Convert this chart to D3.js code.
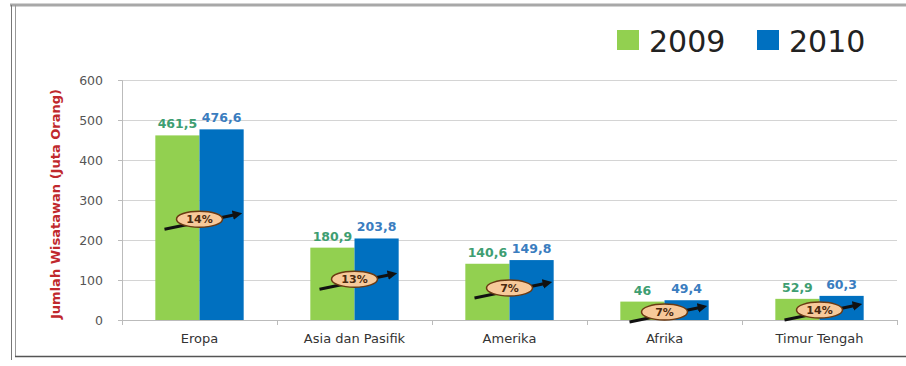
<!DOCTYPE html>
<html>
<head>
<meta charset="utf-8">
<script src="https://cdn.jsdelivr.net/npm/d3@7"></script>
<style>
  html, body { margin: 0; padding: 0; background: #fff; }
  svg { display: block; }
  text { font-family: "DejaVu Sans", sans-serif; }
</style>
</head>
<body>
<svg id="chart" width="906" height="366"></svg>
<script>
// Wisatawan internasional per kawasan (juta orang)
const categories = ["Eropa", "Asia dan Pasifik", "Amerika", "Afrika", "Timur Tengah"];
const years = ["2009", "2010"];
const values2009 = [461.5, 180.9, 140.6, 46, 52.9];
const values2010 = [476.6, 203.8, 149.8, 49.4, 60.3];
const labels2009 = ["461,5", "180,9", "140,6", "46", "52,9"];
const labels2010 = ["476,6", "203,8", "149,8", "49,4", "60,3"];
const growth = ["14%", "13%", "7%", "7%", "14%"];
const growthLevel = [252, 102, 80, 20, 25];   // height of the growth badge, in axis units
const yTicks = [0, 100, 200, 300, 400, 500, 600];

const colors = { "2009": "#92d050", "2010": "#0070c0" };
const labelColors = { "2009": "#3e9e72", "2010": "#3a7dbf" };
const FONT = "'DejaVu Sans', sans-serif";

const svg = d3.select("#chart");

// outer frame
svg.append("line").attr("x1", 10).attr("x2", 906).attr("y1", 5).attr("y2", 5)
  .attr("stroke", "#a8a8a8").attr("stroke-width", 3);
svg.append("line").attr("x1", 11.5).attr("x2", 11.5).attr("y1", 5).attr("y2", 360)
  .attr("stroke", "#777").attr("stroke-width", 1);
svg.append("line").attr("x1", 15.5).attr("x2", 15.5).attr("y1", 5).attr("y2", 356)
  .attr("stroke", "#999").attr("stroke-width", 1);
svg.append("line").attr("x1", 15).attr("x2", 906).attr("y1", 356.5).attr("y2", 356.5)
  .attr("stroke", "#555").attr("stroke-width", 1.5);

const plotLeft = 122, plotRight = 897, plotTop = 80, plotBottom = 320;

const x = d3.scaleBand().domain(categories).range([plotLeft, plotRight])
  .paddingInner(0.43).paddingOuter(0.215);
const xs = d3.scaleBand().domain(years).range([0, x.bandwidth()]);
const y = d3.scaleLinear().domain([0, 600]).range([plotBottom, plotTop]);

// gridlines
svg.append("g").selectAll("line").data(yTicks.filter(d => d > 0)).join("line")
  .attr("x1", plotLeft).attr("x2", plotRight)
  .attr("y1", d => y(d) + 0.5).attr("y2", d => y(d) + 0.5)
  .attr("stroke", "#d4d4d4").attr("stroke-width", 1.2);

// y axis
const yAxis = svg.append("g").attr("transform", `translate(${plotLeft},0)`)
  .call(d3.axisLeft(y).tickValues(yTicks).tickSize(4).tickPadding(15));
yAxis.select(".domain").attr("stroke", "#bbb");
yAxis.selectAll(".tick line").attr("stroke", "#bbb");
yAxis.selectAll("text").attr("fill", "#555").style("font-size", "12.5px")
  .style("font-family", FONT);

// y axis title
svg.append("text")
  .attr("transform", `translate(55,${(plotTop + plotBottom) / 2 + 4}) rotate(-90)`)
  .attr("text-anchor", "middle").attr("dy", "0.35em")
  .attr("textLength", 230).attr("lengthAdjust", "spacingAndGlyphs")
  .attr("fill", "#c0282d").style("font-size", "13px").style("font-weight", "bold")
  .text("Jumlah Wisatawan (Juta Orang)");

// bars
const rows = categories.map((c, i) => ({
  cat: c,
  bars: [
    { year: "2009", value: values2009[i], label: labels2009[i] },
    { year: "2010", value: values2010[i], label: labels2010[i] }
  ],
  growth: growth[i],
  level: growthLevel[i]
}));

const groups = svg.append("g").selectAll("g").data(rows).join("g")
  .attr("transform", d => `translate(${x(d.cat)},0)`);

groups.selectAll("rect").data(d => d.bars).join("rect")
  .attr("x", d => xs(d.year))
  .attr("width", xs.bandwidth())
  .attr("y", d => y(d.value))
  .attr("height", d => y(0) - y(d.value))
  .attr("fill", d => colors[d.year]);

groups.selectAll("text.val").data(d => d.bars).join("text")
  .attr("class", "val")
  .attr("x", d => xs(d.year) + xs.bandwidth() / 2)
  .attr("y", d => y(d.value) - 7)
  .attr("text-anchor", "middle")
  .attr("fill", d => labelColors[d.year])
  .style("font-size", "12.5px").style("font-weight", "bold")
  .text(d => d.label);

// x axis
const xAxis = svg.append("g").attr("transform", `translate(0,${plotBottom})`)
  .call(d3.axisBottom(x).tickSize(0).tickPadding(14));
xAxis.select(".domain").attr("stroke", "#bbb");
xAxis.selectAll("text").attr("fill", "#333").style("font-size", "13px")
  .style("font-family", FONT);
const bounds = d3.range(categories.length + 1).map(i => plotLeft + i * x.step());
svg.append("g").selectAll("line").data(bounds).join("line")
  .attr("x1", d => d + 0.5).attr("x2", d => d + 0.5)
  .attr("y1", plotBottom).attr("y2", plotBottom + 5)
  .attr("stroke", "#bbb");

// growth badges with arrows
const defs = svg.append("defs");
defs.append("marker").attr("id", "arrow")
  .attr("viewBox", "0 0 10 10").attr("refX", 5).attr("refY", 5)
  .attr("markerWidth", 3.2).attr("markerHeight", 3.2).attr("orient", "auto")
  .append("path").attr("d", "M0,0 L10,5 L0,10 Z").attr("fill", "#111");

const badges = svg.append("g").selectAll("g").data(rows).join("g")
  .attr("transform", d => `translate(${x(d.cat) + x.bandwidth() / 2},${y(d.level)})`);

badges.append("line")
  .attr("x1", -35).attr("y1", 10).attr("x2", 38).attr("y2", -5)
  .attr("stroke", "#111").attr("stroke-width", 3)
  .attr("marker-end", "url(#arrow)");

badges.append("ellipse")
  .attr("rx", 23).attr("ry", 8)
  .attr("fill", "#f7c99a").attr("stroke", "#6b3a12").attr("stroke-width", 1.5);

badges.append("text")
  .attr("text-anchor", "middle").attr("dy", "0.36em")
  .attr("fill", "#4a2a10").style("font-size", "11px").style("font-weight", "bold")
  .text(d => d.growth);

// legend
const legend = svg.append("g").attr("transform", "translate(617,0)");
const legendItems = legend.selectAll("g").data(years).join("g")
  .attr("transform", (d, i) => `translate(${i * 140},0)`);
legendItems.append("rect")
  .attr("x", 0).attr("y", 30).attr("width", 22).attr("height", 20)
  .attr("fill", d => colors[d]);
legendItems.append("text")
  .attr("x", 32).attr("y", 52)
  .attr("fill", "#222").style("font-size", "30px")
  .text(d => d);
</script>
</body>
</html>
